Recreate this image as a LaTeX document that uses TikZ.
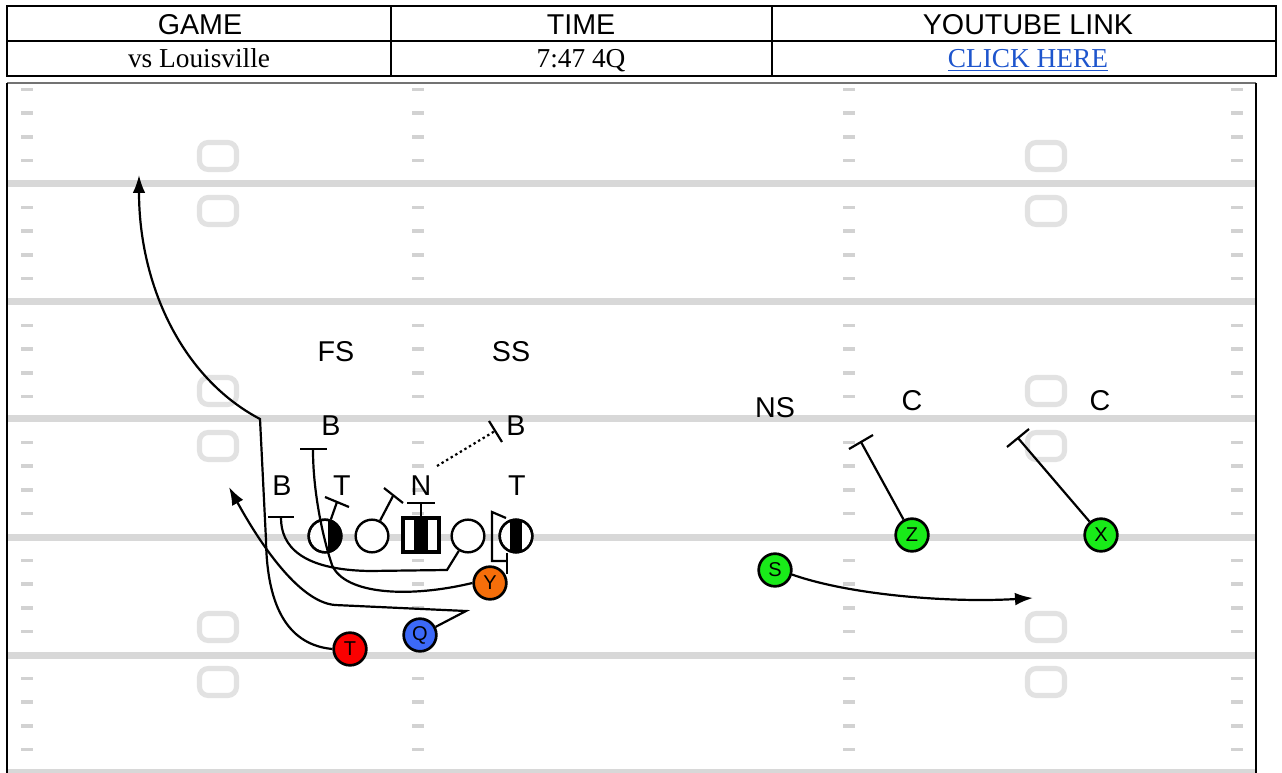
\documentclass[tikz,border=0pt]{standalone}
\usepackage{fontspec}
\setmainfont{Liberation Serif}
\newfontfamily\arialf{Liberation Sans}
\usetikzlibrary{arrows.meta}
\definecolor{yardgrey}{RGB}{216,216,216}
\definecolor{numgrey}{RGB}{226,226,226}
\definecolor{hashgrey}{RGB}{210,210,210}
\definecolor{linkblue}{RGB}{30,85,205}
\definecolor{yorange}{RGB}{245,110,10}
\definecolor{qblue}{RGB}{60,105,248}
\definecolor{tred}{RGB}{250,0,0}
\definecolor{wgreen}{RGB}{25,235,25}
\begin{document}
\begin{tikzpicture}[x=0.75pt,y=-0.75pt,
  route/.style={line width=1.65pt, black},
  arr/.style={route, -{Latex[length=13.5pt,width=9.5pt]}},
  lbl/.style={font=\arialf\fontsize{21.5}{24}\selectfont, inner sep=0pt, anchor=base},
  hdr/.style={font=\arialf\fontsize{21.5}{24}\selectfont, inner sep=0pt, anchor=base},
  cell/.style={font=\fontsize{20.5}{24}\selectfont, inner sep=0pt, anchor=base},
  player/.style={circle, draw=black, line width=2pt, minimum size=24.5pt, inner sep=0pt, font=\arialf\fontsize{15}{16}\selectfont},
  olc/.style={circle, draw=black, line width=1.8pt, fill=white, minimum size=24.5pt, inner sep=0pt},
  olsq/.style={rectangle, draw=black, line width=1.8pt, fill=white, minimum width=26pt, minimum height=24.5pt, inner sep=0pt}
]
\useasboundingbox (0,0) rectangle (1282,773);
\fill[white] (0,0) rectangle (1282,773);

% ---------- table ----------
\draw[line width=1.6pt] (7,6) rectangle (1276,76);
\draw[line width=2pt] (7,41) -- (1276,41);
\draw[line width=1.2pt] (391,6) -- (391,76);
\draw[line width=1.2pt] (772,6) -- (772,76);
\node[hdr] (hgame) at (200,35) {GAME};
\node[hdr] (htime) at (581,35) {TIME};
\node[hdr] (hlink) at (1028,35) {YOUTUBE LINK};
\node[cell] (cgame) at (199,68) {vs Louisville};
\node[cell] (ctime) at (581,68) {7:47 4Q};
\node[cell, text=linkblue] (clink) at (1028,68) {\underline{CLICK HERE}};

% ---------- field ----------
\foreach \L in {184,302,419,537,655,772}
  \draw[yardgrey, line width=5.25pt] (8,\L) -- (1256,\L);
\foreach \L in {66,184,302,419,537,655}
  \foreach \j in {1,2,3,4}
    \foreach \x in {27,418,849,1237}
      \fill[hashgrey] ({\x-6},{\L+\j*23.6-1.8}) rectangle ({\x+6},{\L+\j*23.6+1.8});
\foreach \L in {184,419,655}
  \foreach \x in {218,1046} {
    \draw[numgrey, line width=3.8pt, rounded corners=6.5pt] ({\x-18.5},{\L-41.5}) rectangle ({\x+18.5},{\L-14.5});
    \draw[numgrey, line width=3.8pt, rounded corners=6.5pt] ({\x-18.5},{\L+13.5}) rectangle ({\x+18.5},{\L+40.5});
  }
\draw[black!55, line width=0.8pt] (7,83) -- (1256,83);
\draw[line width=1.7pt] (7,83) -- (7,773);
\draw[line width=1.7pt] (1256,83) -- (1256,773);

% ---------- defensive labels ----------
\node[lbl] (fs) at (336,362) {FS};
\node[lbl] (ss) at (511,362) {SS};
\node[lbl] (bm) at (331,436) {B};
\node[lbl] (br) at (516,436) {B};
\node[lbl] (bl) at (282,495) {B};
\node[lbl] (t1) at (342,495) {T};
\node[lbl] (nn) at (421,495) {N};
\node[lbl] (t2) at (517,495) {T};
\node[lbl] (ns) at (775,418) {NS};
\node[lbl] (c1) at (912,411) {C};
\node[lbl] (c2) at (1100,411) {C};

% ---------- offensive line ----------
\node[olc] (lt) at (325,536) {};
\node[olc] (lg) at (372,536) {};
\node[olsq] (ce) at (421,535) {};
\node[olc] (rg) at (468,536) {};
\node[olc] (te) at (516,536) {};
\begin{scope}
  \clip (325,536) circle (12.25pt);
  \fill (328,515) rectangle (345,557);
\end{scope}
\begin{scope}
  \clip (516,536) circle (12.25pt);
  \fill (510,515) rectangle (522,557);
\end{scope}
\fill (414,519) rectangle (428,551);
\draw[line width=1.8pt] (325,536) circle (12.25pt);
\draw[line width=1.8pt] (516,536) circle (12.25pt);
\draw[line width=1.8pt] (ce.north west) rectangle (ce.south east);

% ---------- skill players ----------
\node[player, fill=yorange] (Y) at (490,583) {Y};
\node[player, fill=qblue] (Q) at (420,635) {Q};
\node[player, fill=tred] (T) at (350,649) {T};
\node[player, fill=wgreen] (S) at (775,570) {S};
\node[player, fill=wgreen] (Z) at (912,535) {Z};
\node[player, fill=wgreen] (X) at (1101,535) {X};

% ---------- blocks ----------
\coordinate (ltb) at (337,502);
\draw[route] (lt) -- (ltb);
\draw[route] (325,497) -- (349,507);
\coordinate (lgb) at (393,496);
\draw[route] (lg) -- (lgb);
\draw[route] (384,488) -- (403,503);
\coordinate (ceb) at (421,503);
\draw[route] (ce.north) -- (ceb);
\draw[route] (407,503) -- (435,503);
\coordinate (rgb) at (281,518);
\draw[route] (rg) -- (447,570) -- (370,571) .. controls (300,570) and (281,545) .. (rgb);
\draw[route] (268,517) -- (294,517);

% Y routes
\coordinate (yb) at (313,450);
\draw[route] (Y.180) .. controls (410,598) and (345,595) .. (332,565) .. controls (322,535) and (313,490) .. (yb);
\draw[route] (300,449) -- (327,449);
\draw[route] (507,574) -- (507,553);
\draw[route] (506,518) -- (492,512) -- (492,561) -- (507,561);

% dotted
\coordinate (dst) at (437,466);
\coordinate (dend) at (495,431);
\draw[route, dash pattern=on 1.8pt off 2.2pt] (dst) -- (dend);
\draw[route] (489,421) -- (502,442);

% Q route
\coordinate (qa) at (466,611);
\coordinate (qt) at (229,487);
\draw[arr] (Q) -- (qa) -- (335,605) .. controls (298,602) and (258,540) .. (qt);

% T route
\coordinate (ta) at (139,175);
\draw[arr] (T.west) .. controls (290,645) and (267,610) .. (266,540) -- (260,419) .. controls (182,378) and (139,285) .. (ta);

% S route
\coordinate (sa) at (1033,598);
\draw[arr] (S.-15) .. controls (850,595) and (950,603) .. (sa);

% Z, X
\coordinate (zb) at (861,442);
\draw[route] (Z) -- (zb);
\draw[route] (849,449) -- (873,435);
\coordinate (xb) at (1018,438);
\draw[route] (X) -- (xb);
\draw[route] (1007,447) -- (1029,429);
\end{tikzpicture}
\end{document}
